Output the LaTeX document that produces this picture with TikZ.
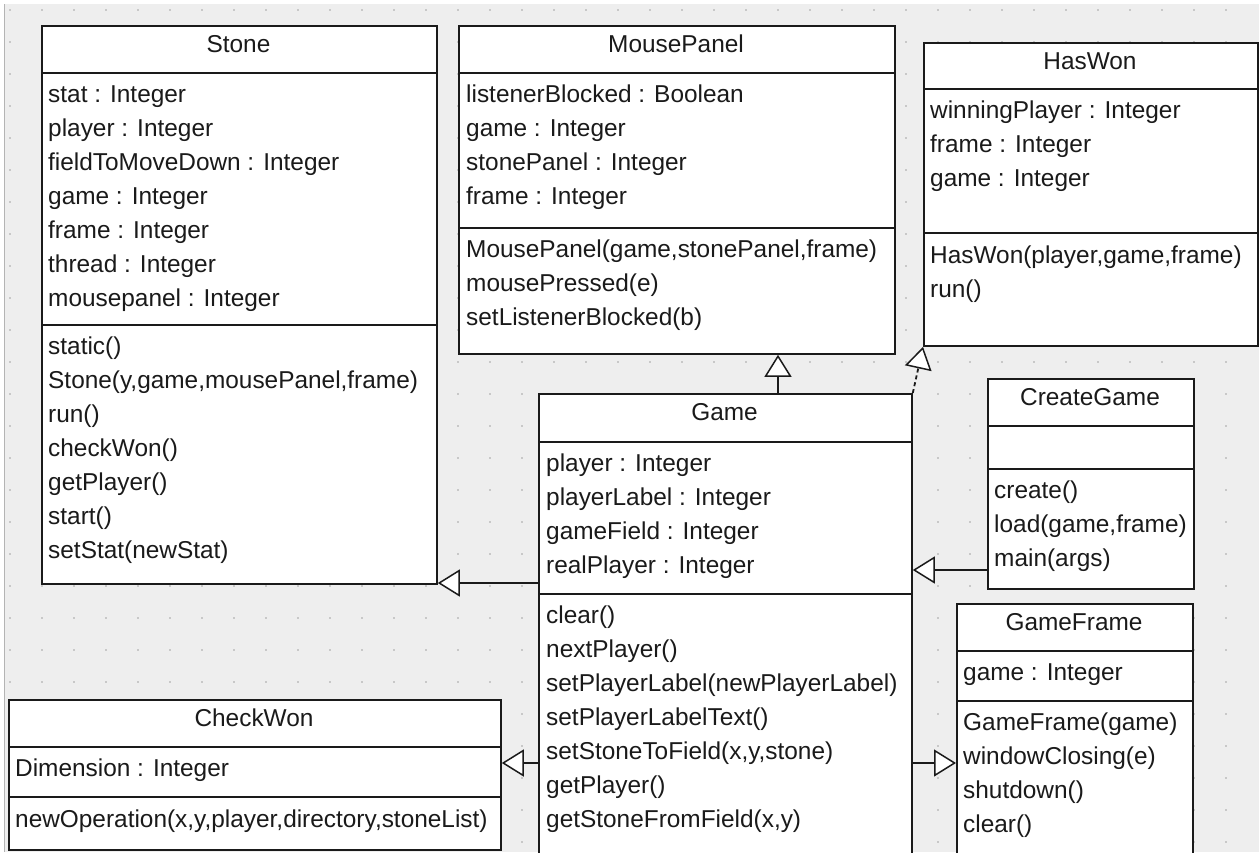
\documentclass[tikz,border=0pt]{standalone}
\usepackage{fontspec}
\setmainfont{Liberation Sans}
\usetikzlibrary{arrows.meta}
\definecolor{bg}{HTML}{EEEEEE}
\definecolor{dotc}{HTML}{C8C8C8}
\definecolor{ink}{HTML}{1A1A1A}
\definecolor{edge}{HTML}{B4B4B4}
\newcommand\classrows[4]{%
  \foreach \t [count=\k from 0] in {#4} {\node[txt] (#1\k) at (#2, {#3+34*\k}) {\t};}}
\begin{document}
\begin{tikzpicture}[x=1pt,y=-1pt,
  font=\fontsize{24.4}{29}\selectfont,
  box/.style={draw=ink, line width=1.8pt, fill=white, rectangle, inner sep=0pt, anchor=north west},
  ttl/.style={anchor=base, inner sep=0pt, text=ink},
  txt/.style={anchor=base west, inner sep=0pt, text=ink},
  sep/.style={draw=ink, line width=1.8pt},
  gen/.style={draw=ink, line width=1.8pt, -{Triangle[length=22pt,width=27pt,fill=white,line width=1.5pt]}}
]
\useasboundingbox (0,0) rectangle (1259,852);
\clip (0,0) rectangle (1259,852);
% background
\fill[white] (0,0) rectangle (1259,852);
\fill[bg] (4,4) rectangle (1259,852);
\draw[edge, line width=1.2pt] (4.6,4) -- (4.6,852);
\foreach \i in {0,...,38} {
  \foreach \j in {0,...,26} {
    \fill[dotc] ({9+32*\i},{9+32*\j}) rectangle +(2,2);
  }
}

% ---------- Stone
\node[box, minimum width=395pt, minimum height=558pt] (stone) at (41,25) {};
\node[ttl] (stoneT) at (238.5,52) {Stone};
\draw[sep] (stone.west |- 0,73) -- (stone.east |- 0,73);
\draw[sep] (stone.west |- 0,325) -- (stone.east |- 0,325);
\classrows{stoneA}{48}{102}{stat : Integer, player : Integer, fieldToMoveDown : Integer, game : Integer, frame : Integer, thread : Integer, mousepanel : Integer}
\classrows{stoneM}{48}{354}{static(), {Stone(y,game,mousePanel,frame)}, run(), checkWon(), getPlayer(), start(), setStat(newStat)}

% ---------- MousePanel
\node[box, minimum width=436pt, minimum height=328pt] (mouse) at (458,25) {};
\node[ttl] (mouseT) at (676,52) {MousePanel};
\draw[sep] (mouse.west |- 0,73) -- (mouse.east |- 0,73);
\draw[sep] (mouse.west |- 0,228) -- (mouse.east |- 0,228);
\classrows{mouseA}{466}{102}{listenerBlocked : Boolean, game : Integer, stonePanel : Integer, frame : Integer}
\classrows{mouseM}{466}{257}{{MousePanel(game,stonePanel,frame)}, mousePressed(e), setListenerBlocked(b)}

% ---------- HasWon
\node[box, minimum width=334pt, minimum height=303pt] (haswon) at (923,42) {};
\node[ttl] (haswonT) at (1090,69) {HasWon};
\draw[sep] (haswon.west |- 0,89) -- (haswon.east |- 0,89);
\draw[sep] (haswon.west |- 0,233) -- (haswon.east |- 0,233);
\classrows{haswonA}{930}{118}{winningPlayer : Integer, frame : Integer, game : Integer}
\classrows{haswonM}{930}{263}{{HasWon(player,game,frame)}, run()}

% ---------- Game
\node[box, minimum width=373pt, minimum height=490pt] (game) at (538,393) {};
\node[ttl] (gameT) at (724.5,420) {Game};
\draw[sep] (game.west |- 0,442) -- (game.east |- 0,442);
\draw[sep] (game.west |- 0,594) -- (game.east |- 0,594);
\classrows{gameA}{546}{471}{player : Integer, playerLabel : Integer, gameField : Integer, realPlayer : Integer}
\classrows{gameM}{546}{623}{clear(), nextPlayer(), setPlayerLabel(newPlayerLabel), setPlayerLabelText(), {setStoneToField(x,y,stone)}, getPlayer(), {getStoneFromField(x,y)}}

% ---------- CreateGame
\node[box, minimum width=206pt, minimum height=210pt] (create) at (987,378) {};
\node[ttl] (createT) at (1090,405) {CreateGame};
\draw[sep] (create.west |- 0,426) -- (create.east |- 0,426);
\draw[sep] (create.west |- 0,469) -- (create.east |- 0,469);
\classrows{createM}{994}{498}{create(), {load(game,frame)}, main(args)}

% ---------- GameFrame
\node[box, minimum width=236pt, minimum height=290pt] (frame) at (956,603) {};
\node[ttl] (frameT) at (1074,630) {GameFrame};
\draw[sep] (frame.west |- 0,651) -- (frame.east |- 0,651);
\draw[sep] (frame.west |- 0,701) -- (frame.east |- 0,701);
\classrows{frameA}{963}{680}{game : Integer}
\classrows{frameM}{963}{730}{GameFrame(game), windowClosing(e), shutdown(), clear()}

% ---------- CheckWon
\node[box, minimum width=492pt, minimum height=150pt] (checkwon) at (8,699) {};
\node[ttl] (checkwonT) at (254,726) {CheckWon};
\draw[sep] (checkwon.west |- 0,747) -- (checkwon.east |- 0,747);
\draw[sep] (checkwon.west |- 0,797) -- (checkwon.east |- 0,797);
\classrows{checkwonA}{15}{776}{Dimension : Integer}
\classrows{checkwonM}{15}{827}{{newOperation(x,y,player,directory,stoneList)}}

% ---------- connectors
\draw[gen] (game.west |- 0,583) -- (stone.east |- 0,583);
\draw[gen] (game.north -| 778,0) -- (mouse.south -| 778,0);
\draw[gen, dash pattern=on 4pt off 3pt] (game.north east) -- (haswon.south west);
\draw[gen] (create.west |- 0,570) -- (game.east |- 0,570);
\draw[gen] (game.east |- 0,763) -- (frame.west |- 0,763);
\draw[gen] (game.west |- 0,763) -- (checkwon.east |- 0,763);
\end{tikzpicture}
\end{document}
